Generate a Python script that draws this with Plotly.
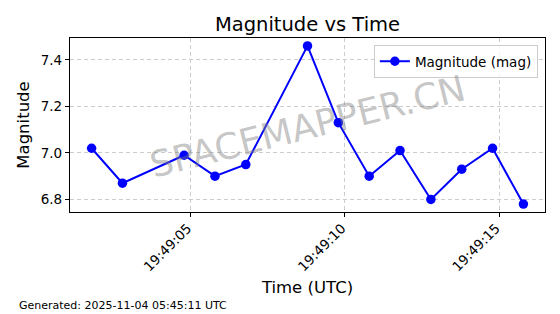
import plotly.graph_objects as go

times = ["2025-11-03 19:49:01.79", "2025-11-03 19:49:02.79", "2025-11-03 19:49:04.79",
         "2025-11-03 19:49:05.79", "2025-11-03 19:49:06.79", "2025-11-03 19:49:08.79",
         "2025-11-03 19:49:09.79", "2025-11-03 19:49:10.79", "2025-11-03 19:49:11.79",
         "2025-11-03 19:49:12.79", "2025-11-03 19:49:13.79", "2025-11-03 19:49:14.79",
         "2025-11-03 19:49:15.79"]
magnitude = [7.02, 6.87, 6.99, 6.90, 6.95, 7.46, 7.13, 6.90, 7.01, 6.80, 6.93, 7.02, 6.78]
y_ticks = [6.8, 7.0, 7.2, 7.4]
x_ticks = ["2025-11-03 19:49:05", "2025-11-03 19:49:10", "2025-11-03 19:49:15"]
x_labels = ["19:49:05", "19:49:10", "19:49:15"]

FONT = "DejaVu Sans"

fig = go.Figure()
fig.add_trace(go.Scatter(
    x=times, y=magnitude, mode="lines+markers", name="Magnitude (mag)",
    line=dict(color="#0000ff", width=2),
    marker=dict(color="#0000ff", size=9.5),
))

fig.update_layout(
    width=560, height=314,
    margin=dict(l=70, r=15, t=38, b=102),
    paper_bgcolor="white", plot_bgcolor="white",
    font=dict(family=FONT, color="black", size=13),
    title=dict(text="Magnitude vs Time", xref="paper", x=0.5, xanchor="center",
               y=1 - 24/314, yanchor="middle",
               font=dict(size=19.5, family=FONT, color="black")),
    showlegend=True,
    legend=dict(x=0.985, y=0.96, xanchor="right", yanchor="top",
                bgcolor="rgba(255,255,255,0.8)", bordercolor="#cccccc", borderwidth=1,
                font=dict(size=13.5, family=FONT)),
)

fig.update_xaxes(
    type="date",
    range=["2025-11-03 19:49:01.09", "2025-11-03 19:49:16.49"],
    tickvals=x_ticks, ticktext=x_labels, tickangle=-45,
    ticklabelshift=-3, ticklabelstandoff=-2,
    ticks="outside", ticklen=4, tickcolor="black",
    showline=True, linecolor="black", linewidth=1.2, mirror=True,
    showgrid=True, gridcolor="#cccccc", griddash="4px,3px", gridwidth=0.8,
    zeroline=False,
    title=dict(text="Time (UTC)", font=dict(size=16.5, family=FONT), standoff=8),
    tickfont=dict(size=13.5, family=FONT),
)
fig.update_yaxes(
    range=[6.746, 7.494],
    tickvals=y_ticks, ticktext=[f"{v:.1f}" for v in y_ticks],
    ticks="outside", ticklen=4, tickcolor="black",
    showline=True, linecolor="black", linewidth=1.2, mirror=True,
    showgrid=True, gridcolor="#cccccc", griddash="4px,3px", gridwidth=0.8,
    zeroline=False,
    title=dict(text="Magnitude", font=dict(size=16.5, family=FONT), standoff=6),
    tickfont=dict(size=13.5, family=FONT),
)

fig.add_annotation(
    text="SPACEMAPPER.CN", xref="paper", yref="paper", x=0.50, y=0.49,
    showarrow=False, textangle=-14,
    font=dict(size=36, family=FONT, color="rgba(128,128,128,0.45)"),
)
fig.add_annotation(
    text="Generated: 2025-11-04 05:45:11 UTC", xref="paper", yref="paper",
    x=(17 - 70) / 475, y=(212 - 305) / 174, xanchor="left", yanchor="middle", showarrow=False,
    font=dict(size=11, family=FONT, color="black"),
)

fig.write_html("out.html")
